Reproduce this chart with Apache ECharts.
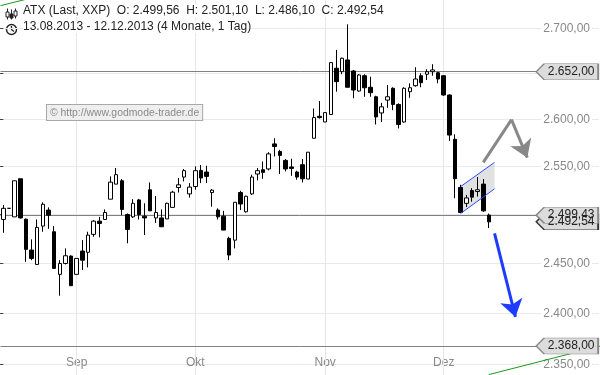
<!DOCTYPE html>
<html><head><meta charset="utf-8">
<script src="https://cdn.jsdelivr.net/npm/echarts@6/dist/echarts.min.js"></script>
<style>html,body{margin:0;padding:0;background:#fff}#c{width:600px;height:375px}</style>
</head><body><div id="c"></div>
<script>
// ---- data ----
const opens  = [2495.0,2506.5,2497.7,2537.3,2495.3,2463.7,2449.1,2488.2,2504.7,2482.4,2439.1,2450.1,2457.6,2439.1,2462.7,2461.4,2479.7,2493.3,2495.0,2516.0,2531.7,2535.2,2500.1,2497.7,2515.2,2498.4,2525.8,2496.6,2496.6,2495.6,2507.5,2528.2,2539.1,2521.5,2529.2,2546.1,2544.4,2522.9,2504.7,2498.4,2475.6,2473.8,2522.9,2502.9,2521.5,2542.3,2546.8,2547.6,2574.1,2566.0,2556.6,2549.7,2544.4,2552.1,2537.0,2580.1,2603.6,2597.5,2605.5,2655.8,2652.0,2664.9,2652.8,2630.9,2647.6,2635.0,2624.7,2607.2,2621.1,2633.9,2616.4,2597.5,2630.2,2636.7,2647.6,2649.2,2652.0,2650.9,2647.6,2626.6,2579.0,2528.2,2511.7,2525.0,2524.0,2531.7,2499.56];
const highs  = [2509.9,2506.5,2535.2,2537.3,2496.0,2474.6,2495.0,2512.8,2507.5,2488.2,2453.5,2465.4,2458.3,2455.5,2473.8,2482.4,2494.3,2497.7,2505.4,2539.8,2548.6,2537.0,2501.2,2516.0,2516.3,2511.7,2533.5,2519.4,2505.4,2512.4,2524.7,2538.1,2547.6,2532.8,2550.3,2551.8,2551.0,2526.5,2506.5,2503.9,2477.3,2512.8,2524.7,2519.7,2541.6,2548.6,2555.5,2565.3,2580.1,2567.8,2558.1,2558.4,2545.8,2558.1,2565.3,2612.0,2620.0,2607.6,2662.0,2676.0,2667.5,2704.4,2653.9,2649.2,2649.2,2646.5,2625.8,2618.1,2637.5,2635.0,2617.5,2635.0,2639.3,2656.9,2650.3,2654.7,2660.2,2652.0,2648.4,2627.3,2584.3,2531.0,2520.4,2527.5,2539.1,2537.0,2501.10];
const lows   = [2481.3,2506.5,2497.7,2496.0,2451.7,2453.4,2449.1,2482.4,2485.4,2445.1,2417.7,2449.1,2427.7,2439.1,2443.4,2446.1,2477.3,2476.7,2495.0,2516.0,2531.7,2499.4,2470.6,2496.6,2495.0,2479.0,2503.9,2491.5,2487.5,2495.6,2507.5,2522.9,2534.5,2517.7,2525.8,2532.8,2532.8,2508.2,2495.0,2484.1,2453.4,2465.4,2504.7,2502.2,2520.4,2535.5,2537.3,2546.1,2560.8,2542.3,2545.0,2540.4,2536.3,2533.5,2537.0,2580.1,2601.1,2597.5,2605.5,2630.2,2649.2,2635.0,2623.0,2630.2,2624.7,2624.7,2594.8,2597.5,2612.7,2610.2,2590.6,2596.9,2623.6,2635.6,2635.0,2642.9,2647.6,2639.3,2625.8,2577.3,2517.0,2502.2,2507.9,2513.4,2518.7,2502.8,2486.10];
const closes = [2506.5,2506.5,2535.2,2496.6,2464.4,2455.2,2486.9,2510.7,2499.4,2445.1,2450.1,2457.9,2427.7,2455.2,2453.4,2479.0,2493.3,2490.9,2502.2,2533.8,2541.6,2505.4,2484.8,2511.7,2500.1,2496.6,2503.9,2502.2,2487.5,2511.7,2523.3,2531.0,2545.8,2528.6,2545.8,2538.1,2539.8,2525.4,2497.7,2484.1,2458.6,2512.8,2511.0,2519.0,2539.1,2545.8,2544.0,2563.5,2571.3,2561.9,2547.6,2548.2,2539.1,2537.3,2565.3,2602.2,2602.2,2607.6,2662.0,2641.1,2666.8,2635.0,2632.0,2648.4,2634.5,2629.1,2602.9,2613.8,2624.7,2616.4,2594.8,2633.9,2634.5,2644.0,2640.0,2652.0,2653.9,2644.0,2626.6,2583.5,2537.4,2502.2,2517.3,2518.1,2525.8,2503.9,2492.54];
const yTicks = [2350,2400,2450,2500,2550,2600,2650,2700];
const monthLabels = ['Sep','Okt','Nov','Dez'];
const monthStarts = [13,34,57,78];
const levelLines = [2652.00, 2499.43, 2368.00];
const lastClose = 2492.54;
const channelX = [81, 87];
const channelLow = [2501.2, 2526.8];
const channelHigh = [2529.2, 2554.5];
const grayArrowX = [85, 90, 92.8];
const grayArrowY = [2554.5, 2600, 2559.5];
const blueArrowX = [87, 90.7];
const blueArrowY = [2480.8, 2396.6];
const trendTopX = [-0.5, 10];
const trendTopY = [2725.3, 2742.1];
const trendBotX = [86, 106];
const trendBotY = [2340.2, 2368.3];
const titleName = 'ATX (Last, XXP)';
const dateRange = '13.08.2013 - 12.12.2013 (4 Monate, 1 Tag)';
const watermark = '\u00A9 http://www.godmode-trader.de';

// ---- helpers ----
const L = Math.log;
const FONT = 'Liberation Sans, Arial, sans-serif';
function fmt(v){
  const s = v.toFixed(2).split('.');
  return s[0].replace(/\B(?=(\d{3})+(?!\d))/g,'.') + ',' + s[1];
}
const nSlots = 106;
const cats = Array.from({length:nSlots},(_,i)=>String(i));
const candleData = opens.map((o,i)=>[L(o),L(closes[i]),L(lows[i]),L(highs[i])]);
const pts = (xs,ys)=>xs.map((x,i)=>[x,L(ys[i])]);
const n = opens.length-1;
const titleText = titleName + '  O: ' + fmt(opens[n]) + '  H: ' + fmt(highs[n]) + '  L: ' + fmt(lows[n]) + '  C: ' + fmt(closes[n]);

const tagPath = 'path://M0,8L8,0L62,0L62,16L8,16Z';
function tag(v, border){
  return {coord:[String(nSlots-1), L(v)], value: fmt(v),
    itemStyle:{color:'#dcdcdc', borderColor:border, borderWidth:1},
    label:{show:true, position:'inside', offset:[4,0], formatter: fmt(v), color:'#222', fontSize:12, fontFamily:FONT}};
}
const hLine = (v)=>[{coord:[-0.5, L(v)]},{coord:[nSlots-0.5, L(v)]}];
const vLine = (x)=>[{coord:[x, L(2339.8)]},{coord:[x, L(2731.7)]}];

const chart = echarts.init(document.getElementById('c'), null, {renderer:'canvas'});
chart.setOption({
  animation:false,
  backgroundColor:'#fff',
  grid:{left:0.5, right:1, top:0, bottom:0, containLabel:false},
  xAxis:[{
    type:'category', data:cats, boundaryGap:true,
    axisLine:{show:false},
    axisTick:{show:true, inside:true, length:4, alignWithLabel:true,
      interval:(i)=>monthStarts.indexOf(i)>=0, lineStyle:{color:'#333'}},
    axisLabel:{inside:true, margin:6, color:'#888', fontSize:12, fontFamily:FONT,
      interval:(i)=>monthStarts.indexOf(i)>=0,
      formatter:(v)=>{const k=monthStarts.indexOf(+v); return k>=0?monthLabels[k]:'';}},
    splitLine:{show:false}
  },{
    type:'value', min:-0.5, max:nSlots-0.5, show:false
  }],
  yAxis:{
    type:'value', position:'right', min:L(2339.8), max:L(2731.7),
    axisLine:{show:false},
    axisTick:{show:true, inside:true, length:5, customValues:yTicks.map(L), lineStyle:{color:'#444'}},
    axisLabel:{inside:true, margin:7, customValues:yTicks.map(L), color:'#888', fontSize:12, fontFamily:FONT,
      backgroundColor:'#fff', padding:[0,2],
      formatter:(v)=>fmt(Math.round(Math.exp(v)))},
    splitLine:{show:true, lineStyle:{color:'#e9e9e9', width:1}}
  },
  series:[
    {type:'line', xAxisIndex:1, data:pts(trendBotX,trendBotY), symbol:'none', z:1,
     lineStyle:{color:'#1a9a1a', width:1}, silent:true,
     markLine:{silent:true, symbol:'none', z:1, precision:10, label:{show:false},
       data:[
         ...monthStarts.map(m=>vLine(m).map((p,k)=>k===0?Object.assign(p,{lineStyle:{color:'#e6e6e6', width:1, type:'solid'}}):p)),
         ...levelLines.map(v=>hLine(v).map((p,k)=>k===0?Object.assign(p,{lineStyle:{color:'#808080', width:1, type:'solid'}}):p))
       ]}},
    {type:'line', xAxisIndex:1, data:pts(trendTopX,trendTopY), symbol:'none', z:1,
     lineStyle:{color:'#1a9a1a', width:1}, silent:true},
    {type:'custom', xAxisIndex:1, z:1, silent:true, data:[0],
     renderItem:(params, api)=>{
       const a = api.coord([channelX[0], L(channelLow[0])]);
       const b = api.coord([channelX[1], L(channelLow[1])]);
       const c = api.coord([channelX[1], L(channelHigh[1])]);
       const d = api.coord([channelX[0], L(channelHigh[0])]);
       return {type:'polygon', shape:{points:[a,b,c,d]}, style:{fill:'rgba(200,200,200,0.55)', stroke:'none'}};
     }},
    {type:'candlestick', xAxisIndex:0, data:candleData, barWidth:4, z:3,
     itemStyle:{color:'#ffffff', color0:'#000000', borderColor:'#000000', borderColor0:'#000000', borderWidth:1},
     markPoint:{silent:true, z:10, symbol:tagPath, symbolSize:[62,16], symbolOffset:[-29,0], symbolKeepAspect:false,
       data:[tag(levelLines[0],'#888'), tag(lastClose,'#333'), tag(levelLines[1],'#888'), tag(levelLines[2],'#888')]}},
    {type:'line', xAxisIndex:1, data:pts(channelX,channelLow), symbol:'none', z:4,
     lineStyle:{color:'#2b4cff', width:1}, silent:true},
    {type:'line', xAxisIndex:1, data:pts(channelX,channelHigh), symbol:'none', z:4,
     lineStyle:{color:'#2b4cff', width:1}, silent:true,
     markLine:{silent:true, z:6, precision:10, label:{show:false}, symbol:['none','arrow'], symbolSize:17,
       data:[
         [{coord:[grayArrowX[0],L(grayArrowY[0])], symbol:'none'},{coord:[grayArrowX[1],L(grayArrowY[1])], symbol:'none'}],
         [{coord:[grayArrowX[1],L(grayArrowY[1])], symbol:'none'},{coord:[grayArrowX[2],L(grayArrowY[2])], symbol:'arrow'}],
         [{coord:[blueArrowX[0],L(blueArrowY[0])], symbol:'none', lineStyle:{color:'#1e3cff', width:3, type:'solid'}, itemStyle:{color:'#1e3cff'}},
          {coord:[blueArrowX[1],L(blueArrowY[1])], symbol:'arrow', itemStyle:{color:'#1e3cff'}}]
       ],
       itemStyle:{color:'#888'},
       lineStyle:{color:'#888', width:3, type:'solid'}}}
  ],
  graphic:[
    {type:'text', left:23, top:5, z:20, style:{text:titleText, fill:'#222', font:'12px '+FONT, backgroundColor:'#fff'}},
    {type:'text', left:23, top:21, z:20, style:{text:dateRange, fill:'#222', font:'12px '+FONT, backgroundColor:'#fff'}},
    {type:'group', left:5, top:6, z:20, children:[
      {type:'line', shape:{x1:2,y1:0,x2:2,y2:11}, style:{stroke:'#222', lineWidth:1}},
      {type:'rect', shape:{x:0.5,y:3.5,width:3,height:5}, style:{fill:'#fff', stroke:'#222', lineWidth:1}},
      {type:'line', shape:{x1:6,y1:1,x2:6,y2:11}, style:{stroke:'#222', lineWidth:1}},
      {type:'rect', shape:{x:4.5,y:5.5,width:3,height:4}, style:{fill:'#222', stroke:'#222', lineWidth:1}},
      {type:'line', shape:{x1:10,y1:0,x2:10,y2:10}, style:{stroke:'#222', lineWidth:1}},
      {type:'rect', shape:{x:8.5,y:2.5,width:3,height:5}, style:{fill:'#fff', stroke:'#222', lineWidth:1}}
    ]},
    {type:'group', left:4, top:22, z:20, children:[
      {type:'circle', shape:{cx:6,cy:6,r:5}, style:{fill:'none', stroke:'#222', lineWidth:1.4}},
      {type:'polyline', shape:{points:[[6,2.5],[6,6],[8.5,8]]}, style:{fill:'none', stroke:'#222', lineWidth:1.3}}
    ]},
    {type:'text', left:46, top:104, z:20, style:{text:watermark, fill:'#8a8a8a', font:'10.4px '+FONT,
      backgroundColor:'#efefef', borderColor:'#a8a8a8', borderWidth:1, padding:[3,3,2,3]}}
  ]
});
</script></body></html>
